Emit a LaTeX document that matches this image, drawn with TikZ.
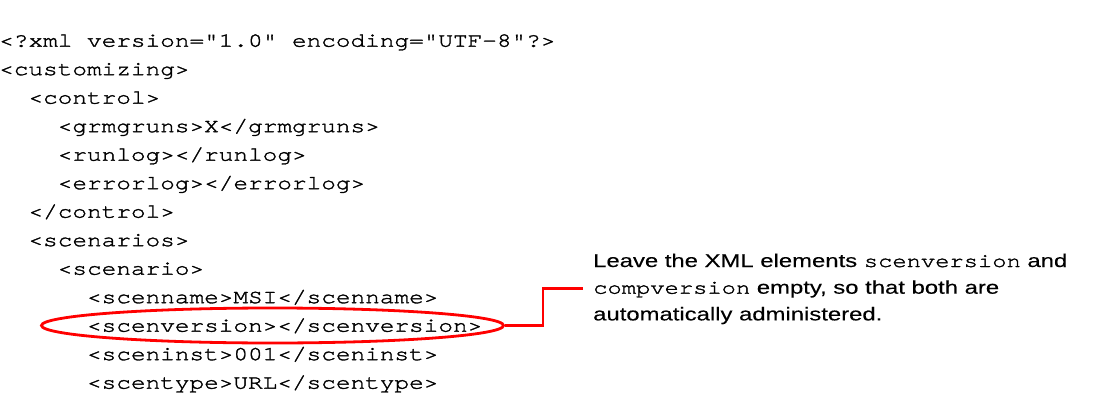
\documentclass[tikz,border=0pt]{standalone}
\usepackage{fontspec}
\usetikzlibrary{shapes.geometric}
\usetikzlibrary{matrix, positioning}
\newfontfamily\codefont{texgyrecursor-regular.otf}[FakeStretch=1.22, FakeBold=1.6, Ligatures=TeXOff]
\newfontfamily\notefont{Liberation Sans}[FakeStretch=1.29, FakeBold=0.25]
\newcommand{\tagname}[1]{{\codefont\fontsize{19.5pt}{26.7pt}\selectfont #1}}

\begin{document}
\begin{tikzpicture}[x=1pt, y=1pt,
    codeline/.style={font={\codefont\fontsize{20pt}{28.5pt}\selectfont},
        anchor=base west, inner sep=0pt, text height=20pt, text depth=8.5pt},
    notetext/.style={font={\notefont\fontsize{18.5pt}{26.7pt}\selectfont},
        anchor=base west, inner sep=0pt},
    callout/.style={color=red, line width=2.8pt}]
    \useasboundingbox (0,0) rectangle (1120,400);

    \matrix (code) [matrix of nodes, anchor=north west, inner sep=0pt,
        row sep=0pt, nodes={codeline}] at (-1,373.5)
    {
        <?xml version="1.0" encoding="UTF-8"?> \\
        <customizing> \\
        \phantom{xx}<control> \\
        \phantom{xxxx}<grmgruns>X</grmgruns> \\
        \phantom{xxxx}<runlog></runlog> \\
        \phantom{xxxx}<errorlog></errorlog> \\
        \phantom{xx}</control> \\
        \phantom{xx}<scenarios> \\
        \phantom{xxxx}<scenario> \\
        \phantom{xxxxxx}<scenname>MSI</scenname> \\
        \phantom{xxxxxx}<scenversion></scenversion> \\
        \phantom{xxxxxx}<sceninst>001</sceninst> \\
        \phantom{xxxxxx}<scentype>URL</scentype> \\
    };

    \node (note1) [notetext] at (593,133)
        {Leave the XML elements \tagname{scenversion} and};
    \node (note2) [notetext] at ([yshift=-26.7pt]note1.base west)
        {\tagname{compversion} empty, so that both are};
    \node (note3) [notetext] at ([yshift=-26.7pt]note2.base west)
        {automatically administered.};

    \node (mark) [ellipse, draw=red, line width=2.8pt, inner sep=0pt,
        minimum width=462pt, minimum height=35pt] at (272.5,74.5) {};
    \coordinate (tip) at ([xshift=-10pt,yshift=5.5pt]note2.base west);

    \draw[callout] (mark.east) -- ++(38,0) |- (tip);

\end{tikzpicture}
\end{document}
